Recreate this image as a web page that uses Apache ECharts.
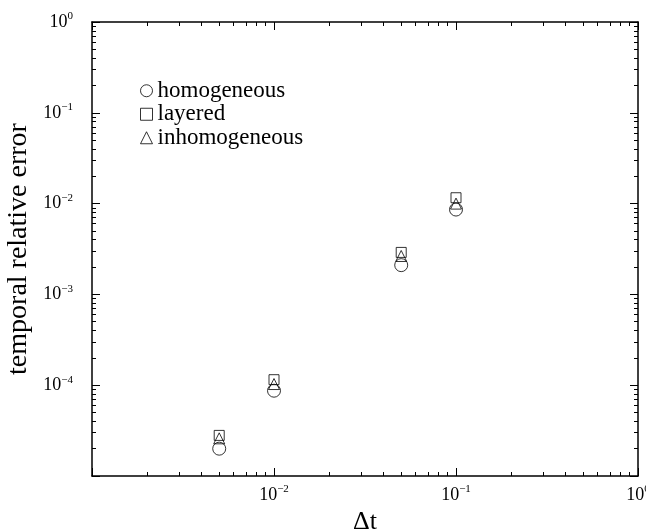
<!DOCTYPE html>
<html>
<head>
<meta charset="utf-8">
<title>temporal relative error</title>
<script src="https://cdn.jsdelivr.net/npm/echarts@6/dist/echarts.min.js"></script>
<style>
  html, body { margin: 0; padding: 0; background: #fff; }
  #chart { width: 646px; height: 529px; }
</style>
</head>
<body>
<div id="chart"></div>
<script>
'use strict';

// time steps
var dt = [0.005, 0.01, 0.05, 0.1];
// errors
var homogeneous = [2.0e-5, 8.7e-5, 2.1e-3, 8.6e-3];
var layered = [2.8e-5, 1.15e-4, 2.9e-3, 1.16e-2];
var inhomogeneous = [2.6e-5, 1.03e-4, 2.65e-3, 1.0e-2];

// ticks
var xMajor = [0.001, 0.01, 0.1, 1];
var xLabels = [0.01, 0.1, 1];
var yMajor = [1e-5, 1e-4, 1e-3, 1e-2, 1e-1, 1];
var yLabels = [1e-4, 1e-3, 1e-2, 1e-1, 1];

function minorTicks(decades) {
	var out = [];
	for (var i = 0; i < decades.length - 1; i++) {
		for (var k = 2; k <= 9; k++) {
			out.push(decades[i] * k);
		}
	}
	return out;
}
var xMinor = minorTicks(xMajor);
var yMinor = minorTicks(yMajor);

var FONT = 'Liberation Serif';

function powLabel(v) {
	var e = Math.round(Math.log10(v));
	return '{b|10}{s|' + (e < 0 ? '\u2212' : '') + Math.abs(e) + '}';
}
var labelRich = {
	b: { fontSize: 18, fontFamily: FONT, color: '#000', lineHeight: 22 },
	s: { fontSize: 11, fontFamily: FONT, color: '#000', verticalAlign: 'top', lineHeight: 12 }
};

var lineStyle = { color: '#000', width: 1.5 };

//一个坐标轴 (主刻度或次刻度)
function makeAxis(pos, min, max, ticks, len, opts) {
	var ax = {
		type: 'log',
		logBase: 10,
		position: pos,
		min: min,
		max: max,
		splitLine: { show: false },
		axisLine: { show: !!opts.line, lineStyle: lineStyle },
		axisTick: { show: true, inside: true, length: len, customValues: ticks, lineStyle: { color: '#000', width: 1 } },
		axisLabel: { show: false }
	};
	if (opts.labels) {
		ax.axisLabel = {
			show: true,
			customValues: opts.labels,
			formatter: powLabel,
			rich: labelRich,
			margin: opts.margin
		};
	}
	if (opts.name) {
		ax.name = opts.name;
		ax.nameLocation = 'middle';
		ax.nameGap = opts.nameGap;
		ax.nameTextStyle = { fontFamily: FONT, fontSize: opts.nameSize, color: '#000' };
	}
	return ax;
}

var xAxes = [
	makeAxis('bottom', 0.001, 1, xMajor, 8, { line: true, labels: xLabels, margin: 8, name: '\u0394t', nameGap: 28, nameSize: 26 }),
	makeAxis('bottom', 0.001, 1, xMinor, 4, {}),
	makeAxis('top', 0.001, 1, xMajor, 8, { line: true }),
	makeAxis('top', 0.001, 1, xMinor, 4, {})
];
var yAxes = [
	makeAxis('left', 1e-5, 1, yMajor, 8, { line: true, labels: yLabels, margin: 19, name: 'temporal relative error', nameGap: 57, nameSize: 28 }),
	makeAxis('left', 1e-5, 1, yMinor, 4, {}),
	makeAxis('right', 1e-5, 1, yMajor, 8, { line: true }),
	makeAxis('right', 1e-5, 1, yMinor, 4, {})
];

function pts(vals) {
	return dt.map(function(x, i) { return [x, vals[i]]; });
}

var hollow = { color: 'rgba(0,0,0,0)', borderColor: '#000', borderWidth: 1 };

var myChart = echarts.init(document.getElementById('chart'), null, { renderer: 'canvas' });
var option = {
	backgroundColor: '#fff',
	animation: false,
	grid: { left: 92, right: 8, top: 22, bottom: 53, containLabel: false, outerBoundsMode: 'none' },
	legend: {
		orient: 'vertical',
		left: 135,
		top: 74,
		itemWidth: 12,
		itemHeight: 12,
		itemGap: 0,
		textStyle: { fontFamily: FONT, fontSize: 23, lineHeight: 23.5, color: '#000' },
		itemStyle: hollow,
		data: [
			{ name: 'homogeneous', icon: 'circle' },
			{ name: 'layered', icon: 'rect' },
			{ name: 'inhomogeneous', icon: 'triangle' }
		]
	},
	xAxis: xAxes,
	yAxis: yAxes,
	series: [
		{ name: 'homogeneous', type: 'scatter', symbol: 'circle', symbolSize: 13, itemStyle: hollow, data: pts(homogeneous) },
		{ name: 'layered', type: 'scatter', symbol: 'rect', symbolSize: 10, itemStyle: hollow, data: pts(layered) },
		{ name: 'inhomogeneous', type: 'scatter', symbol: 'triangle', symbolSize: 11, itemStyle: hollow, data: pts(inhomogeneous) }
	]
};
myChart.setOption(option);
</script>
</body>
</html>
